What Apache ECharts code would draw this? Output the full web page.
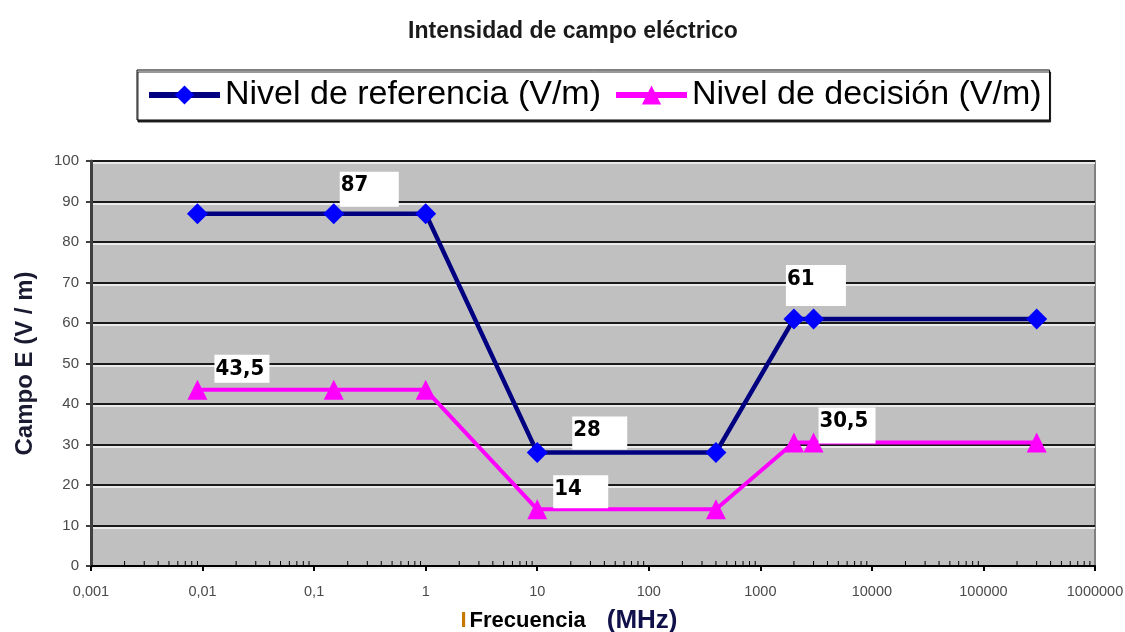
<!DOCTYPE html>
<html>
<head>
<meta charset="utf-8">
<script src="https://cdn.jsdelivr.net/npm/echarts@6/dist/echarts.min.js"></script>
<style>
  html, body { margin: 0; padding: 0; background: #fff; }
  #chart { width: 1125px; height: 632px; }
</style>
</head>
<body>
<div id="chart"></div>
<script>
// Frequencies (MHz) at which each level is stated
const frequencies = [0.009, 0.15, 1, 10, 400, 2000, 3000, 300000];
// Reference level (V/m)
const referenceLevel = [87, 87, 87, 28, 28, 61, 61, 61];
// Decision level (V/m)
const decisionLevel = [43.5, 43.5, 43.5, 14, 14, 30.5, 30.5, 30.5];
// Points that carry a value label
const referenceLabelled = [1, 3, 5];
const decisionLabelled = [0, 3, 6];
// Major tick labels of the log frequency axis
const xTickLabels = ['0,001', '0,01', '0,1', '1', '10', '100', '1000', '10000', '100000', '1000000'];
// Minor ticks inside each decade (2..9 x 10^n)
const minorMultipliers = [2, 3, 4, 5, 6, 7, 8, 9];
const decadeStarts = [0.001, 0.01, 0.1, 1, 10, 100, 1000, 10000, 100000];

const seriesNames = ['Nivel de referencia (V/m)', 'Nivel de decisión (V/m)'];

// label box placement relative to the marker centre: [dx, dy, width, height]
const labelBoxes = {
  ref: { 1: [6, -42, 59, 35], 3: [35, -36, 55, 33], 5: [-8, -54, 60, 41] },
  dec: { 0: [17, -35, 55, 28], 3: [16, -34, 55, 33], 6: [5, -35, 57, 36] }
};

const labelFont = "'DejaVu Sans Condensed', 'Liberation Sans', sans-serif";
const baseFont = "'Liberation Sans', Arial, sans-serif";

function fmt(v) { return String(v).replace('.', ','); }

function buildData(values, labelled, boxes) {
  return frequencies.map(function (f, i) {
    const item = { value: [f, values[i]] };
    if (labelled.indexOf(i) >= 0) {
      const b = boxes[i];
      const padTop = 3, padBottom = 0;
      item.label = {
        show: true,
        position: 'inside',
        align: 'left',
        verticalAlign: 'top',
        offset: [b[0], b[1]],
        formatter: fmt(values[i]),
        backgroundColor: '#ffffff',
        color: '#000',
        fontFamily: labelFont,
        fontWeight: 'bold',
        fontSize: 22,
        lineHeight: 22,
        width: b[2] - 2,
        height: b[3] - padTop - padBottom,
        padding: [padTop, 1, padBottom, 1]
      };
    }
    return item;
  });
}

const minorTicks = [];
decadeStarts.forEach(function (d) {
  minorMultipliers.forEach(function (m) { minorTicks.push([d * m, 0]); });
});

const chart = echarts.init(document.getElementById('chart'), null, { renderer: 'canvas' });

chart.setOption({
  backgroundColor: '#ffffff',
  animation: false,
  textStyle: { fontFamily: baseFont },
  title: {
    text: 'Intensidad de campo eléctrico',
    left: 568,
    top: 15,
    textAlign: 'center',
    textStyle: { fontSize: 23, fontWeight: 'bold', color: '#1a1a1a', fontFamily: baseFont }
  },
  legend: {
    data: seriesNames,
    left: 137,
    top: 70,
    padding: [8, 8, 8, 9],
    itemGap: 12,
    itemWidth: 71,
    itemHeight: 24,
    backgroundColor: '#fff',
    borderColor: '#000',
    borderWidth: 1,
    shadowColor: 'rgba(0,0,0,0.8)',
    shadowOffsetX: 1,
    shadowOffsetY: 2,
    shadowBlur: 0,
    lineStyle: { width: 6 },
    textStyle: { fontSize: 34, color: '#000', fontFamily: baseFont }
  },
  grid: {
    left: 91,
    right: 30,
    top: 161,
    bottom: 66,
    outerBoundsMode: 'none',
    containLabel: false,
    show: true,
    backgroundColor: '#c0c0c0',
    borderColor: '#808080',
    borderWidth: 2
  },
  xAxis: {
    type: 'log',
    logBase: 10,
    min: 0.001,
    max: 1000000,
    name: '{bar|I}{f|Frecuencia}{u|(MHz)}',
    nameLocation: 'middle',
    nameGap: 42,
    nameTextStyle: {
      padding: [0, 48, 0, 0],
      rich: {
        bar: { fontSize: 22, fontWeight: 'bold', color: '#c87800', fontFamily: baseFont, padding: [0, 3, 0, 0] },
        f: { fontSize: 22, fontWeight: 'bold', color: '#000', fontFamily: baseFont, padding: [0, 21, 0, 0] },
        u: { fontSize: 26, fontWeight: 'bold', color: '#10104a', fontFamily: baseFont }
      }
    },
    axisLine: { lineStyle: { color: '#000', width: 2 } },
    axisTick: { show: true, length: 5, lineStyle: { color: '#000', width: 2 } },
    axisLabel: {
      margin: 18,
      fontSize: 14.5,
      color: '#4a4a4a',
      formatter: function (v) {
        const idx = Math.round(Math.log10(v)) + 3;
        return xTickLabels[idx] !== undefined ? xTickLabels[idx] : '';
      }
    },
    splitLine: { show: false }
  },
  yAxis: {
    type: 'value',
    min: 0,
    max: 100,
    interval: 10,
    name: 'Campo E (V / m)',
    nameLocation: 'middle',
    nameGap: 54,
    nameRotate: 90,
    nameTextStyle: { fontSize: 24, fontWeight: 'bold', color: '#1a1a30', fontFamily: baseFont },
    axisLine: { show: true, lineStyle: { color: '#404040', width: 3 } },
    axisTick: { show: true, length: 5, lineStyle: { color: '#404040', width: 2 } },
    axisLabel: { margin: 12, fontSize: 15, color: '#4a4a4a' },
    splitLine: {
      show: true,
      lineStyle: { color: '#1a1a1a', width: 2, shadowColor: 'rgba(240,240,240,0.9)', shadowOffsetY: 2, shadowBlur: 0 }
    }
  },
  series: [
    {
      name: seriesNames[0],
      type: 'line',
      data: buildData(referenceLevel, referenceLabelled, labelBoxes.ref),
      symbol: 'diamond',
      symbolSize: 21,
      lineStyle: { color: '#000080', width: 4.5 },
      itemStyle: { color: '#0000ff' },
      z: 3
    },
    {
      name: seriesNames[1],
      type: 'line',
      data: buildData(decisionLevel, decisionLabelled, labelBoxes.dec),
      symbol: 'triangle',
      symbolSize: 20,
      lineStyle: { color: '#ff00ff', width: 4 },
      itemStyle: { color: '#ff00ff' },
      z: 2
    },
    {
      name: 'minor',
      type: 'custom',
      silent: true,
      data: minorTicks,
      encode: { x: 0, y: 1 },
      renderItem: function (params, api) {
        const p = api.coord([api.value(0), 0]);
        return {
          type: 'line',
          shape: { x1: p[0], y1: p[1] - 1, x2: p[0], y2: p[1] - 5 },
          style: { stroke: '#000', lineWidth: 1 }
        };
      },
      z: 1
    }
  ]
});
</script>
</body>
</html>
